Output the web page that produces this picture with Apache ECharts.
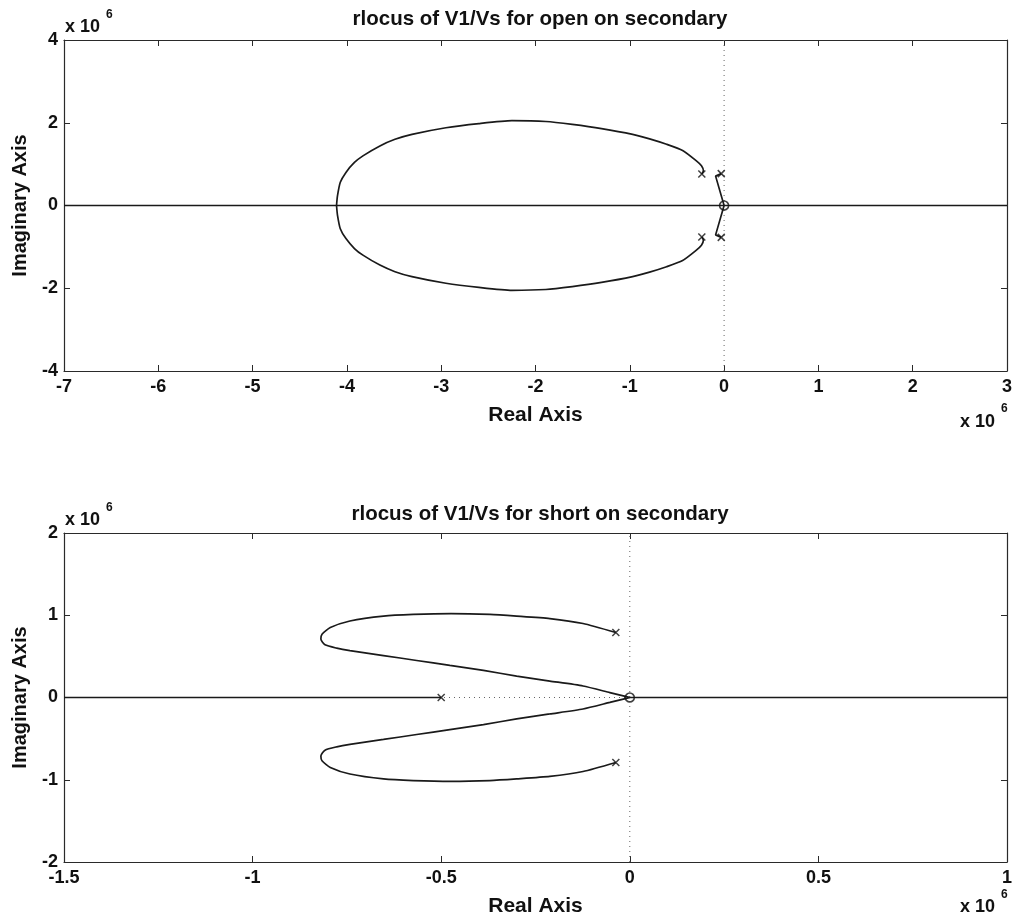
<!DOCTYPE html>
<html>
<head>
<meta charset="utf-8">
<script src="https://cdn.jsdelivr.net/npm/echarts@6/dist/echarts.min.js"></script>
<style>
  html, body { margin: 0; padding: 0; background: #fff; }
  #chart { width: 1015px; height: 922px; }
</style>
</head>
<body>
<div id="chart"></div>
<script>
// ---- Root locus data (units of 1e6) ----

// Open secondary: complex branches from the outer poles, meeting the real axis near -4.1
const openUpperBranch = [
  [-0.236, 0.76], [-0.22, 0.84], [-0.24, 0.96], [-0.30, 1.09], [-0.44, 1.33],
  [-0.61, 1.48], [-0.79, 1.61], [-0.97, 1.72], [-1.30, 1.86], [-1.61, 1.96],
  [-1.89, 2.03], [-2.25, 2.05], [-2.60, 1.98], [-2.95, 1.88], [-3.31, 1.72],
  [-3.49, 1.60], [-3.65, 1.44], [-3.83, 1.20], [-3.92, 1.04], [-4.01, 0.80],
  [-4.07, 0.56], [-4.10, 0.23], [-4.11, 0]
];
const openLowerBranch = [
  [-0.236, -0.76], [-0.22, -0.84], [-0.24, -0.96], [-0.30, -1.09], [-0.44, -1.33],
  [-0.61, -1.48], [-0.79, -1.61], [-0.97, -1.72], [-1.30, -1.86], [-1.61, -1.96],
  [-1.89, -2.03], [-2.25, -2.05], [-2.60, -1.98], [-2.95, -1.88], [-3.31, -1.72],
  [-3.49, -1.60], [-3.65, -1.44], [-3.83, -1.20], [-3.92, -1.04], [-4.01, -0.80],
  [-4.07, -0.56], [-4.10, -0.23], [-4.11, 0]
];
// Open secondary: short branches from the inner poles into the zero at the origin
const openUpperHook = [[-0.03, 0.77], [-0.09, 0.71], [0, 0]];
const openLowerHook = [[-0.03, -0.77], [-0.09, -0.71], [0, 0]];
const openRealAxis = [[-7, 0], [3, 0]];
const openPoles = [[-0.236, 0.76], [-0.236, -0.76], [-0.03, 0.77], [-0.03, -0.77]];
const openZeros = [[0, 0]];

// Short secondary: looping complex branches ending at the zero at the origin
const shortUpperBranch = [
  [-0.037, 0.79], [-0.124, 0.90], [-0.212, 0.96], [-0.300, 0.99], [-0.371, 1.01],
  [-0.474, 1.02], [-0.574, 1.01], [-0.653, 0.99], [-0.742, 0.93], [-0.794, 0.85],
  [-0.816, 0.77], [-0.819, 0.71], [-0.808, 0.64], [-0.777, 0.60], [-0.742, 0.57],
  [-0.653, 0.51], [-0.565, 0.45], [-0.477, 0.39], [-0.388, 0.33], [-0.300, 0.26],
  [-0.212, 0.20], [-0.124, 0.14], [-0.053, 0.06], [-0.009, 0.01], [0, 0]
];
const shortLowerBranch = [
  [-0.037, -0.79], [-0.124, -0.90], [-0.212, -0.96], [-0.300, -0.99], [-0.371, -1.01],
  [-0.474, -1.02], [-0.574, -1.01], [-0.653, -0.99], [-0.742, -0.93], [-0.794, -0.85],
  [-0.816, -0.77], [-0.819, -0.71], [-0.808, -0.64], [-0.777, -0.60], [-0.742, -0.57],
  [-0.653, -0.51], [-0.565, -0.45], [-0.477, -0.39], [-0.388, -0.33], [-0.300, -0.26],
  [-0.212, -0.20], [-0.124, -0.14], [-0.053, -0.06], [-0.009, -0.01], [0, 0]
];
const shortRealLeft = [[-1.5, 0], [-0.5, 0]];
const shortRealRight = [[0, 0], [1, 0]];
const shortPoles = [[-0.037, 0.79], [-0.037, -0.79], [-0.5, 0]];
const shortZeros = [[0, 0]];

// Axis ranges and ticks
const openX = { min: -7, max: 3, interval: 1 };
const openY = { min: -4, max: 4, interval: 2 };
const shortX = { min: -1.5, max: 1, interval: 0.5 };
const shortY = { min: -2, max: 2, interval: 1 };

const titles = ['rlocus of V1/Vs for open on secondary', 'rlocus of V1/Vs for short on secondary'];

// ---- Styling helpers ----
const FONT = '"Liberation Sans", Arial, Helvetica, sans-serif';
const INK = '#111';
const FRAME = '#2a2a2a';

function mainX(grid, r) {
  return {
    type: 'value', gridIndex: grid, position: 'bottom',
    min: r.min, max: r.max, interval: r.interval,
    name: 'Real Axis', nameLocation: 'middle', nameGap: 34,
    nameTextStyle: { fontFamily: FONT, fontWeight: 'bold', fontSize: 21, color: INK },
    axisLine: { show: true, onZero: false, lineStyle: { color: FRAME, width: 1.2 } },
    axisTick: { show: true, inside: true, length: 6, lineStyle: { color: FRAME } },
    axisLabel: { fontFamily: FONT, fontWeight: 'bold', fontSize: 18, color: INK, margin: 7 },
    splitLine: { show: false }
  };
}
function topX(grid, r) {
  return {
    type: 'value', gridIndex: grid, position: 'top',
    min: r.min, max: r.max, interval: r.interval,
    axisLine: { show: true, onZero: false, lineStyle: { color: FRAME, width: 1.2 } },
    axisTick: { show: true, inside: true, length: 6, lineStyle: { color: FRAME } },
    axisLabel: { show: false }, splitLine: { show: false }
  };
}
function mainY(grid, r) {
  return {
    type: 'value', gridIndex: grid, position: 'left',
    min: r.min, max: r.max, interval: r.interval,
    name: 'Imaginary Axis', nameLocation: 'middle', nameGap: 34,
    nameTextStyle: { fontFamily: FONT, fontWeight: 'bold', fontSize: 20, color: INK },
    axisLine: { show: true, onZero: false, lineStyle: { color: FRAME, width: 1.2 } },
    axisTick: { show: true, inside: true, length: 6, lineStyle: { color: FRAME } },
    axisLabel: { fontFamily: FONT, fontWeight: 'bold', fontSize: 18, color: INK, margin: 6 },
    splitLine: { show: false }
  };
}
function rightY(grid, r) {
  return {
    type: 'value', gridIndex: grid, position: 'right',
    min: r.min, max: r.max, interval: r.interval,
    axisLine: { show: true, onZero: false, lineStyle: { color: FRAME, width: 1.2 } },
    axisTick: { show: true, inside: true, length: 6, lineStyle: { color: FRAME } },
    axisLabel: { show: false }, splitLine: { show: false }
  };
}

function curve(data, xi, yi, extra) {
  return Object.assign({
    type: 'line', data: data, xAxisIndex: xi, yAxisIndex: yi,
    showSymbol: false, symbol: 'none', smooth: 0.2, silent: true,
    lineStyle: { color: '#1a1a1a', width: 1.7 }
  }, extra || {});
}
function dotted(data, xi, yi) {
  return {
    type: 'line', data: data, xAxisIndex: xi, yAxisIndex: yi,
    showSymbol: false, symbol: 'none', silent: true,
    lineStyle: { color: '#666', width: 1, type: [1, 4] }
  };
}
function poleMarks(data, xi, yi) {
  return {
    type: 'scatter', data: data, xAxisIndex: xi, yAxisIndex: yi, silent: true,
    symbol: 'path://M0,0L10,10M10,0L0,10', symbolSize: 7,
    itemStyle: { color: 'none', borderColor: '#111', borderWidth: 1.5 }, z: 5
  };
}
function zeroMarks(data, xi, yi) {
  return {
    type: 'scatter', data: data, xAxisIndex: xi, yAxisIndex: yi, silent: true,
    symbol: 'circle', symbolSize: 9,
    itemStyle: { color: 'none', borderColor: '#111', borderWidth: 1.6 }, z: 6
  };
}

function txt(text, x, y, size, align) {
  return {
    type: 'text', x: x, y: y, silent: true,
    style: {
      text: text, font: 'bold ' + size + 'px ' + FONT, fill: INK,
      align: align || 'left', verticalAlign: 'middle'
    }
  };
}

const option = {
  animation: false,
  backgroundColor: '#fff',
  grid: [
    { left: 64, right: 7, top: 40, height: 331 },
    { left: 64, right: 7, top: 533, height: 329 }
  ],
  xAxis: [mainX(0, openX), topX(0, openX), mainX(1, shortX), topX(1, shortX)],
  yAxis: [mainY(0, openY), rightY(0, openY), mainY(1, shortY), rightY(1, shortY)],
  series: [
    // open on secondary
    dotted([[0, openY.min], [0, openY.max]], 0, 0),
    curve(openRealAxis, 0, 0, { smooth: false }),
    curve(openUpperBranch, 0, 0),
    curve(openLowerBranch, 0, 0),
    curve(openUpperHook, 0, 0, { smooth: false }),
    curve(openLowerHook, 0, 0, { smooth: false }),
    poleMarks(openPoles, 0, 0),
    zeroMarks(openZeros, 0, 0),
    // short on secondary
    dotted([[0, shortY.min], [0, shortY.max]], 2, 2),
    dotted([[shortX.min, 0], [shortX.max, 0]], 2, 2),
    curve(shortRealLeft, 2, 2, { smooth: false }),
    curve(shortRealRight, 2, 2, { smooth: false }),
    curve(shortUpperBranch, 2, 2),
    curve(shortLowerBranch, 2, 2),
    poleMarks(shortPoles, 2, 2),
    zeroMarks(shortZeros, 2, 2)
  ],
  graphic: [
    txt(titles[0], 540, 19, 20.5, 'center'),
    txt(titles[1], 540, 514, 20.5, 'center'),
    // exponent annotations
    txt('x 10', 65, 27, 18), txt('6', 106, 15, 12),
    txt('x 10', 960, 422, 18), txt('6', 1001, 409, 12),
    txt('x 10', 65, 520, 18), txt('6', 106, 508, 12),
    txt('x 10', 960, 907, 18), txt('6', 1001, 895, 12)
  ]
};

const chart = echarts.init(document.getElementById('chart'), null, { renderer: 'canvas' });
chart.setOption(option);
</script>
</body>
</html>
